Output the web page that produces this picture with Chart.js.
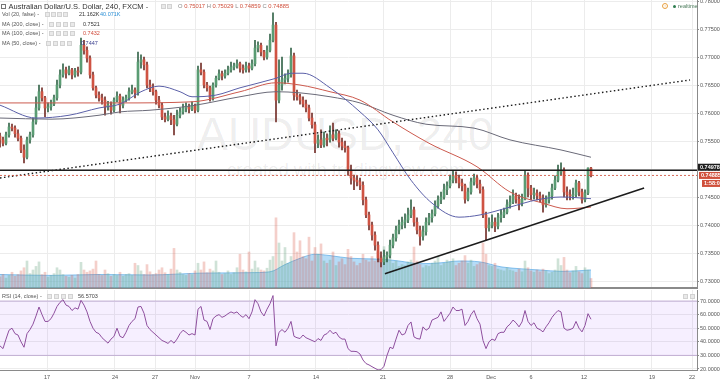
<!DOCTYPE html>
<html><head><meta charset="utf-8">
<script src="https://cdn.jsdelivr.net/npm/chart.js@4/dist/chart.umd.min.js"></script>
<style>
html,body{margin:0;padding:0;background:#fff;width:720px;height:386px;overflow:hidden;font-family:"Liberation Sans",Arial,sans-serif;}
#wrap{position:relative;width:720px;height:386px;}
canvas{position:absolute;left:0;z-index:1;}
#c1{top:0}
#c2{top:290px}
.wm{position:absolute;color:rgba(0,0,0,0.075);white-space:nowrap;z-index:0}
.t{position:absolute;white-space:nowrap;z-index:2;line-height:1;font-size:5.5px;color:#555}
.ic{position:absolute;z-index:2;width:5px;height:5px;background:#e9e9e9;border:0.5px solid #d2d2d2;box-sizing:border-box}
</style></head>
<body><div id="wrap">
<div class="wm" style="left:197px;top:111px;font-size:46px;line-height:46px">AUDUSD, 240</div>
<div class="wm" style="left:227px;top:161px;font-size:18.5px;line-height:18.5px">created with tradingview.com</div>
<canvas id="c1" width="720" height="289" style="width:720px;height:289px"></canvas>
<canvas id="c2" width="720" height="96" style="width:720px;height:96px"></canvas>

<i class="ic" style="left:1px;top:4px;width:5px;height:5px;border:0.8px solid #777;background:#fff"></i>
<span class="t" style="left:8.5px;top:3px;font-size:7.5px;color:#333">Australian Dollar/U.S. Dollar, 240, FXCM -</span>
<i class="ic" style="left:161px;top:4px"></i><i class="ic" style="left:167px;top:4px"></i>
<span class="t" id="ohlcText" style="left:178px;top:4px;font-size:5.8px"></span>

<span class="t" style="left:2px;top:12px">Vol (20, false) -</span>
<i class="ic" style="left:45px;top:12px"></i><i class="ic" style="left:51px;top:12px"></i><i class="ic" style="left:57px;top:12px"></i><i class="ic" style="left:63px;top:12px"></i>
<span class="t" id="volText" style="left:79px;top:12px;color:#333"></span>
<span class="t" id="volMaText" style="left:100px;top:12px;color:#2b8fd6"></span>

<span class="t" style="left:2px;top:22px">MA (200, close) -</span>
<i class="ic" style="left:49px;top:22px"></i><i class="ic" style="left:56px;top:22px"></i><i class="ic" style="left:63px;top:22px"></i><i class="ic" style="left:70px;top:22px"></i>
<span class="t" id="ma200Text" style="left:83px;top:22px;color:#333"></span>

<span class="t" style="left:2px;top:31px">MA (100, close) -</span>
<i class="ic" style="left:49px;top:31px"></i><i class="ic" style="left:56px;top:31px"></i><i class="ic" style="left:63px;top:31px"></i><i class="ic" style="left:70px;top:31px"></i>
<span class="t" id="ma100Text" style="left:83px;top:31px;color:#d04a3a"></span>

<span class="t" style="left:2px;top:41px">MA (50, close) -</span>
<i class="ic" style="left:46px;top:41px"></i><i class="ic" style="left:53px;top:41px"></i><i class="ic" style="left:60px;top:41px"></i><i class="ic" style="left:67px;top:41px"></i>
<span class="t" id="ma50Text" style="left:81px;top:41px;color:#3a3f8f"></span>

<span class="t" style="left:662px;top:3px;width:6px;height:6px;border:0.8px solid #e8a040;border-radius:50%;box-sizing:border-box;font-size:4px;color:#e8a040;text-align:center;line-height:5px">!</span>
<i class="ic" style="left:673px;top:4.5px;width:3px;height:3px;border:none;border-radius:50%;background:#2e7d50"></i>
<span class="t" style="left:678px;top:3.5px;color:#4a7a5a">realtime</span>

<span class="t" style="left:2px;top:294px">RSI (14, close) -</span>
<i class="ic" style="left:47px;top:294px"></i><i class="ic" style="left:54px;top:294px"></i><i class="ic" style="left:61px;top:294px"></i><i class="ic" style="left:68px;top:294px"></i>
<span class="t" id="rsiText" style="left:78px;top:294px;color:#444"></span>
<i class="ic" style="left:683px;top:294px"></i><i class="ic" style="left:690px;top:294px"></i>
</div>
<script>
// ---------- DATA ----------
const timeTickBars = [15.67,38.33,51.67,65,83,105.33,127.67,150,163.67,177,194.67,217.33,230.67];
const timeTickLabels = ['17','24','27','Nov','7','14','21','28','Dec','6','12','19','22'];
const priceTicks = [0.730,0.735,0.740,0.745,0.750,0.755,0.760,0.765,0.770,0.775,0.780];
const rsiTicks = [20,30,40,50,60,70];

// 4H candles [open, high, low, close]
const ohlc = [
[0.7559,0.7564,0.7539,0.7552],[0.7552,0.7557,0.7541,0.7546],[0.7546,0.7566,0.7543,0.7561],[0.7561,0.7582,0.7557,0.7575],[0.7575,0.7580,0.7568,0.7573],
[0.7573,0.7577,0.7557,0.7563],[0.7563,0.7570,0.7550,0.7555],[0.7555,0.7559,0.7529,0.7534],[0.7534,0.7543,0.7511,0.7521],[0.7521,0.7557,0.7518,0.7552],
[0.7552,0.7566,0.7546,0.7561],[0.7561,0.7591,0.7557,0.7584],[0.7584,0.7629,0.7580,0.7609],[0.7609,0.7650,0.7605,0.7638],[0.7638,0.7645,0.7621,0.7627],
[0.7627,0.7630,0.7593,0.7609],[0.7609,0.7618,0.7602,0.7611],[0.7611,0.7623,0.7605,0.7616],[0.7616,0.7632,0.7613,0.7627],[0.7627,0.7659,0.7623,0.7650],
[0.7650,0.7677,0.7645,0.7668],[0.7668,0.7688,0.7664,0.7677],[0.7677,0.7682,0.7662,0.7671],[0.7671,0.7684,0.7668,0.7677],[0.7677,0.7680,0.7661,0.7668],
[0.7668,0.7680,0.7664,0.7675],[0.7675,0.7682,0.7666,0.7673],[0.7673,0.7734,0.7670,0.7721],[0.7721,0.7730,0.7705,0.7712],[0.7712,0.7718,0.7691,0.7698],
[0.7698,0.7702,0.7662,0.7668],[0.7668,0.7673,0.7641,0.7645],[0.7645,0.7648,0.7627,0.7632],[0.7632,0.7638,0.7621,0.7627],[0.7627,0.7634,0.7616,0.7623],
[0.7623,0.7629,0.7596,0.7611],[0.7611,0.7621,0.7605,0.7614],[0.7614,0.7620,0.7598,0.7605],[0.7605,0.7627,0.7602,0.7623],[0.7623,0.7638,0.7620,0.7630],
[0.7630,0.7634,0.7600,0.7614],[0.7614,0.7629,0.7609,0.7623],[0.7623,0.7632,0.7620,0.7627],[0.7627,0.7645,0.7623,0.7638],[0.7638,0.7650,0.7634,0.7641],
[0.7641,0.7645,0.7627,0.7636],[0.7636,0.7709,0.7632,0.7691],[0.7691,0.7704,0.7680,0.7695],[0.7695,0.7700,0.7677,0.7686],[0.7686,0.7691,0.7645,0.7650],
[0.7650,0.7659,0.7638,0.7645],[0.7645,0.7652,0.7632,0.7638],[0.7638,0.7641,0.7616,0.7623],[0.7623,0.7630,0.7609,0.7614],[0.7614,0.7618,0.7588,0.7593],
[0.7593,0.7600,0.7584,0.7589],[0.7589,0.7604,0.7586,0.7595],[0.7595,0.7600,0.7579,0.7588],[0.7588,0.7596,0.7561,0.7580],[0.7580,0.7605,0.7577,0.7596],
[0.7596,0.7609,0.7591,0.7602],[0.7602,0.7616,0.7598,0.7609],[0.7609,0.7618,0.7602,0.7611],[0.7611,0.7616,0.7600,0.7607],[0.7607,0.7620,0.7604,0.7613],
[0.7613,0.7616,0.7600,0.7605],[0.7605,0.7684,0.7602,0.7677],[0.7677,0.7689,0.7668,0.7673],[0.7673,0.7677,0.7645,0.7650],[0.7650,0.7655,0.7639,0.7645],
[0.7645,0.7648,0.7621,0.7627],[0.7627,0.7654,0.7623,0.7650],[0.7650,0.7666,0.7646,0.7662],[0.7662,0.7677,0.7659,0.7670],[0.7670,0.7675,0.7659,0.7666],
[0.7666,0.7677,0.7662,0.7671],[0.7671,0.7684,0.7668,0.7677],[0.7677,0.7691,0.7673,0.7682],[0.7682,0.7689,0.7677,0.7684],[0.7684,0.7695,0.7680,0.7688],
[0.7688,0.7691,0.7673,0.7680],[0.7680,0.7686,0.7671,0.7677],[0.7677,0.7691,0.7673,0.7684],[0.7684,0.7689,0.7673,0.7680],[0.7680,0.7695,0.7677,0.7688],
[0.7688,0.7730,0.7684,0.7716],[0.7716,0.7727,0.7709,0.7721],[0.7721,0.7725,0.7702,0.7709],[0.7709,0.7712,0.7695,0.7700],[0.7700,0.7720,0.7696,0.7712],
[0.7712,0.7741,0.7709,0.7730],[0.7730,0.7779,0.7727,0.7757],[0.7757,0.7762,0.7584,0.7623],[0.7623,0.7695,0.7618,0.7650],[0.7650,0.7700,0.7641,0.7659],
[0.7659,0.7670,0.7652,0.7662],[0.7662,0.7677,0.7655,0.7668],[0.7668,0.7716,0.7664,0.7702],[0.7702,0.7707,0.7623,0.7632],[0.7632,0.7641,0.7623,0.7629],
[0.7629,0.7634,0.7616,0.7623],[0.7623,0.7629,0.7611,0.7616],[0.7616,0.7623,0.7602,0.7609],[0.7609,0.7614,0.7586,0.7591],[0.7591,0.7600,0.7573,0.7579],
[0.7579,0.7584,0.7529,0.7546],[0.7546,0.7561,0.7538,0.7552],[0.7552,0.7570,0.7538,0.7543],[0.7543,0.7566,0.7539,0.7555],[0.7555,0.7563,0.7541,0.7552],
[0.7552,0.7577,0.7548,0.7561],[0.7561,0.7582,0.7550,0.7555],[0.7555,0.7570,0.7552,0.7563],[0.7563,0.7568,0.7539,0.7548],[0.7548,0.7555,0.7534,0.7541],
[0.7541,0.7550,0.7530,0.7538],[0.7538,0.7541,0.7489,0.7498],[0.7498,0.7507,0.7473,0.7484],[0.7484,0.7489,0.7463,0.7480],[0.7480,0.7488,0.7470,0.7477],
[0.7477,0.7484,0.7463,0.7471],[0.7471,0.7477,0.7436,0.7445],[0.7445,0.7450,0.7413,0.7418],[0.7418,0.7423,0.7391,0.7400],[0.7400,0.7405,0.7373,0.7382],
[0.7382,0.7388,0.7355,0.7364],[0.7364,0.7370,0.7334,0.7341],[0.7341,0.7352,0.7325,0.7334],[0.7334,0.7355,0.7329,0.7343],[0.7343,0.7352,0.7334,0.7346],
[0.7346,0.7373,0.7341,0.7364],[0.7364,0.7384,0.7359,0.7377],[0.7377,0.7398,0.7371,0.7391],[0.7391,0.7409,0.7384,0.7400],[0.7400,0.7414,0.7393,0.7405],
[0.7405,0.7420,0.7395,0.7409],[0.7409,0.7430,0.7404,0.7418],[0.7418,0.7445,0.7413,0.7427],[0.7427,0.7432,0.7398,0.7405],[0.7405,0.7413,0.7384,0.7391],
[0.7391,0.7398,0.7364,0.7380],[0.7380,0.7398,0.7373,0.7388],[0.7388,0.7413,0.7382,0.7405],[0.7405,0.7421,0.7400,0.7413],[0.7413,0.7427,0.7405,0.7420],
[0.7420,0.7443,0.7416,0.7434],[0.7434,0.7452,0.7430,0.7445],[0.7445,0.7459,0.7438,0.7450],[0.7450,0.7473,0.7446,0.7463],[0.7463,0.7477,0.7454,0.7470],
[0.7470,0.7489,0.7466,0.7480],[0.7480,0.7496,0.7475,0.7488],[0.7488,0.7495,0.7475,0.7484],[0.7484,0.7489,0.7466,0.7475],[0.7475,0.7482,0.7461,0.7470],
[0.7470,0.7473,0.7439,0.7446],[0.7446,0.7466,0.7443,0.7459],[0.7459,0.7484,0.7455,0.7477],[0.7477,0.7491,0.7471,0.7484],[0.7484,0.7489,0.7466,0.7473],
[0.7473,0.7480,0.7457,0.7463],[0.7463,0.7468,0.7413,0.7418],[0.7418,0.7423,0.7373,0.7395],[0.7395,0.7413,0.7389,0.7400],[0.7400,0.7418,0.7395,0.7405],
[0.7405,0.7413,0.7388,0.7398],[0.7398,0.7421,0.7393,0.7413],[0.7413,0.7427,0.7405,0.7418],[0.7418,0.7430,0.7413,0.7423],[0.7423,0.7445,0.7420,0.7436],
[0.7436,0.7452,0.7430,0.7441],[0.7441,0.7463,0.7438,0.7452],[0.7452,0.7457,0.7439,0.7446],[0.7446,0.7454,0.7427,0.7438],[0.7438,0.7455,0.7434,0.7446],
[0.7446,0.7496,0.7445,0.7489],[0.7489,0.7493,0.7450,0.7466],[0.7466,0.7471,0.7445,0.7454],[0.7454,0.7466,0.7446,0.7457],[0.7457,0.7463,0.7445,0.7452],
[0.7452,0.7459,0.7441,0.7446],[0.7446,0.7454,0.7423,0.7436],[0.7436,0.7452,0.7432,0.7445],[0.7445,0.7459,0.7439,0.7452],[0.7452,0.7473,0.7446,0.7466],
[0.7466,0.7488,0.7463,0.7480],[0.7480,0.7507,0.7477,0.7495],[0.7495,0.7511,0.7489,0.7498],[0.7498,0.7502,0.7450,0.7459],[0.7459,0.7468,0.7445,0.7454],
[0.7454,0.7463,0.7445,0.7452],[0.7452,0.7466,0.7446,0.7454],[0.7454,0.7480,0.7450,0.7475],[0.7475,0.7478,0.7452,0.7459],[0.7459,0.7464,0.7439,0.7445],
[0.7445,0.7463,0.7441,0.7457],[0.7457,0.7502,0.7454,0.75017],[0.75017,0.75029,0.74859,0.74885]
];

// volume (thousands)
const volumes = [
25,30,22,28,35,26,30,38,45,60, 32,40,48,58,30,35,24,28,32,45,
40,30,26,24,28,22,30,57,40,35, 38,42,60,30,28,40,32,26,30,28,
35,26,30,32,28,55,50,38,30,52, 36,30,32,40,45,34,30,42,88,40,
35,30,28,32,30,38,55,40,58,34, 42,38,60,35,30,32,38,30,34,45,
75,40,36,80,42,60,45,40,38,44, 62,70,156,100,60,90,55,70,123,80,
105,70,65,113,60,90,75,98,60,55, 62,80,50,58,65,52,86,70,58,50,
55,75,62,58,70,60,80,72,92,65, 70,55,60,48,52,50,58,62,91,60,
52,45,50,48,55,60,70,50,55,62, 58,65,50,55,60,72,55,62,48,52,
56,100,75,50,48,55,42,40,38,45, 40,38,35,42,36,60,45,38,35,40,
36,42,38,32,35,40,65,50,68,40, 34,38,48,36,32,45,40,21.162
];
// Vol(20) moving average [bar, value]
const volumeMA = [[0,30],[17,28],[33,30],[50,29],[67,33],[83,34],[90,36],[95,52],[100,66],[105,75],[110,72],[117,66],[127,64],[133,60],[140,54],[147,56],[153,60],[160,58],[167,47],[173,43],[180,40],[187,37],[192,38],[197,40.071]];

// moving averages [bar, value]
const ma200 = [[0,0.7591],[17,0.7589],[33,0.7596],[40,0.7602],[50,0.7605],[64,0.7613],[80,0.7629],[92,0.7638],[100,0.7636],[110,0.7629],[120,0.7618],[131,0.7596],[142,0.7580],[158,0.7573],[170,0.7552],[187,0.7534],[197,0.7521]];
const ma100 = [[0,0.7618],[20,0.7618],[40,0.7618],[64,0.7620],[80,0.7638],[92,0.7654],[100,0.7650],[110,0.7638],[120,0.7623],[131,0.7584],[143,0.7546],[159,0.7504],[170,0.7459],[181,0.7439],[189,0.7429],[197,0.7432]];
const ma50 = [[0,0.7614],[12,0.7591],[23,0.7596],[33,0.7609],[40,0.7616],[47,0.7638],[53,0.7648],[60,0.7638],[64,0.7629],[72,0.7632],[80,0.7645],[92,0.7662],[97,0.7671],[101,0.7671],[110,0.7645],[120,0.7602],[126,0.7570],[131,0.7529],[137,0.7480],[144,0.7439],[153,0.7414],[160,0.7418],[170,0.7432],[179,0.7445],[187,0.7450],[197,0.7447]];

// RSI(14)
const rsiValues = [
37,35,42,48.5,50,46,45,40,36,46, 49,53,59,65.6,60,55,55,57,61,66,
69,71,67,66,63,65,64,70.5,67,62, 55,50,47,46,43,41,39,42,44,50,
44,43,47,52,55,57,65.6,66,61,52, 49,47,45,43,41,40,38.8,41,39,42,
46,48.5,47,45,46,45,64,66,56,55, 49,57,59,60,58,59,60.7,62,61,62,
59.5,58,60,57,62,71,68,62,59,64, 68,74,37,47,49,47,50,55,44,43,
42.4,45,43,42,41,40,42.4,41,45,46, 48.5,46,47,43.6,42,42,35,33,33,32.7,
31,26.6,24,23,21.7,20.5,19.3,19.5,22,30, 36,35,42,48.5,45,46,52,54.6,43.6,42.4,
42,51,48.5,50,56,57,58,62,55,58, 61,65.6,63,63,64,52,55,60,63,57,
53,41,35,40,42,41,46,47,47,51, 53,56,54,51,54.6,63,55,52,54,50,
49,47.3,51,54,58,60.7,63,62,50,48.5, 49,50,55,50,47.3,52,60.7,56.5703
];
const rsiUpper = 70, rsiLower = 30;

// drawings
const resistanceLevel = 0.74978;
const dottedTrend = [[0,0.7484],[230,0.7659]];
const supportTrend = [[128.3,0.7313],[214.7,0.7466]];
const countdown = '1:58:05';

// ---------- CHARTS ----------
Chart.defaults.font.family = '"Liberation Sans", Arial, sans-serif';
const xMax = 232.33;
const priceMin = 0.72875, priceMax = 0.78018;
const rsiMin = 19.26, rsiMax = 78.1;
const bars = ohlc.map((d,i)=>({i,o:d[0],h:d[1],l:d[2],c:d[3],up:d[3]>=d[0]}));
const last = bars[bars.length-1];
const lastClose = last.c;
const pts = arr => arr.map(p=>({x:p[0],y:p[1]}));
const levelLine = v => [{x:0,y:v},{x:xMax,y:v}];
const UP='#5a9c73', DOWN='#cf5343', UPW='#35654a', DOWNW='#74302a';

const priceTags = {
  id:'priceTags',
  afterDraw(chart){
    const ys = chart.scales.y, ctx = chart.ctx, L = chart.chartArea.right;
    const tag = (val, text, bg, dy, x0) => {
      const py = ys.getPixelForValue(val) + dy;
      ctx.save();
      ctx.fillStyle = bg; ctx.fillRect(L + x0, py - 3.5, 720 - L - x0, 7);
      ctx.fillStyle = '#fff'; ctx.font = 'bold 5.5px "Liberation Sans", Arial';
      ctx.textBaseline = 'middle'; ctx.textAlign = 'left';
      ctx.fillText(text, L + x0 + 2, py + 0.3);
      ctx.restore();
    };
    tag(resistanceLevel, resistanceLevel.toFixed(5), '#1e1e1e', -3, 1);
    tag(lastClose, lastClose.toFixed(5), '#d0503c', 0, 2);
    tag(lastClose, countdown, '#d0503c', 8, 5);
  }
};

new Chart(document.getElementById('c1'), {
  type:'bar',
  data:{datasets:[
    {type:'line', data:levelLine(resistanceLevel), borderColor:'#1c1c1c', borderWidth:1.4, pointRadius:0, order:0},
    {type:'line', data:levelLine(lastClose), borderColor:'rgba(208,80,60,0.85)', borderWidth:1, borderDash:[2,2], pointRadius:0, order:0},
    {type:'line', data:pts(dottedTrend), borderColor:'#1c1c1c', borderWidth:1.4, borderDash:[1.5,2.5], pointRadius:0, order:0},
    {type:'line', data:pts(supportTrend), borderColor:'#1c1c1c', borderWidth:1.5, pointRadius:0, order:0},
    {type:'line', data:pts(ma50), borderColor:'#5b60a8', borderWidth:1, pointRadius:0, cubicInterpolationMode:'monotone', order:1},
    {type:'line', data:pts(ma100), borderColor:'#cc5a4e', borderWidth:1, pointRadius:0, cubicInterpolationMode:'monotone', order:1},
    {type:'line', data:pts(ma200), borderColor:'#6a6a78', borderWidth:1, pointRadius:0, cubicInterpolationMode:'monotone', order:1},
    {type:'bar', data:bars.map(b=>({x:b.i,y:[b.o,b.c]})), backgroundColor:bars.map(b=>b.up?UP:DOWN), barThickness:2, grouped:false, minBarLength:1, borderWidth:0, order:2},
    {type:'bar', data:bars.map(b=>({x:b.i,y:[b.l,b.h]})), backgroundColor:bars.map(b=>b.up?UPW:DOWNW), barThickness:1, grouped:false, borderWidth:0, order:3},
    {type:'bar', yAxisID:'yv', data:volumes.map((v,i)=>({x:i,y:v})), backgroundColor:bars.map(b=>b.up?'rgba(107,165,131,0.32)':'rgba(215,84,66,0.28)'), barThickness:2, grouped:false, borderWidth:0, order:4},
    {type:'line', yAxisID:'yv', data:pts(volumeMA), fill:'origin', backgroundColor:'rgba(120,192,240,0.55)', borderColor:'rgba(90,170,230,0.7)', borderWidth:1, pointRadius:0, cubicInterpolationMode:'monotone', order:5}
  ]},
  options:{
    responsive:false, animation:false, devicePixelRatio:1, events:[],
    layout:{padding:0},
    plugins:{legend:{display:false}, tooltip:{enabled:false}},
    scales:{
      x:{type:'linear', min:0, max:xMax, offset:false,
         grid:{color:'#ececec', offset:false, drawTicks:false},
         border:{display:true, color:'#8a8a8a', width:2},
         ticks:{display:false},
         afterBuildTicks:s=>{s.ticks=timeTickBars.map(v=>({value:v}));},
         afterFit:s=>{s.height=1; s.paddingLeft=0; s.paddingRight=0;}},
      y:{position:'right', min:priceMin, max:priceMax,
         grid:{color:'#ececec', tickColor:'#8a8a8a', tickLength:2, drawTicks:true},
         border:{display:true, color:'#8a8a8a'},
         ticks:{font:{size:5.5}, color:'#555', padding:1, callback:v=>v.toFixed(5)},
         afterBuildTicks:s=>{s.ticks=priceTicks.map(v=>({value:v}));},
         afterFit:s=>{s.width=23; s.paddingTop=0; s.paddingBottom=0;}},
      yv:{display:false, min:0, max:640}
    }
  },
  plugins:[priceTags]
});

new Chart(document.getElementById('c2'), {
  type:'line',
  data:{datasets:[
    {data:rsiValues.map((v,i)=>({x:i,y:v})), borderColor:'#8e4f9e', borderWidth:1, pointRadius:0, order:0},
    {data:levelLine(rsiUpper), borderColor:'rgba(160,130,190,0.55)', borderWidth:1, pointRadius:0, order:1},
    {data:levelLine(rsiLower), borderColor:'rgba(160,130,190,0.55)', borderWidth:1, pointRadius:0, fill:'-1', backgroundColor:'rgba(160,80,255,0.09)', order:2}
  ]},
  options:{
    responsive:false, animation:false, devicePixelRatio:1, events:[],
    layout:{padding:0},
    plugins:{legend:{display:false}, tooltip:{enabled:false}},
    scales:{
      x:{type:'linear', min:0, max:xMax, offset:false,
         grid:{color:'#ececec', drawTicks:false},
         border:{display:true, color:'#8a8a8a', width:1},
         ticks:{font:{size:5.5}, color:'#555', padding:4, maxRotation:0, autoSkip:false, callback:(v,i)=>timeTickLabels[i]},
         afterBuildTicks:s=>{s.ticks=timeTickBars.map(v=>({value:v}));},
         afterFit:s=>{s.height=16; s.paddingLeft=0; s.paddingRight=0;}},
      y:{position:'right', min:rsiMin, max:rsiMax,
         grid:{color:'#ececec', tickColor:'#8a8a8a', tickLength:2, drawTicks:true},
         border:{display:true, color:'#8a8a8a'},
         ticks:{font:{size:5.5}, color:'#555', padding:1, callback:v=>v.toFixed(4)},
         afterBuildTicks:s=>{s.ticks=rsiTicks.map(v=>({value:v}));},
         afterFit:s=>{s.width=23; s.paddingTop=0; s.paddingBottom=0;}}
    }
  }
});

// legend values from data
const g = id => document.getElementById(id);
const val = v => '<span style="color:#d0503c">' + v.toFixed(5) + '</span>';
g('ohlcText').innerHTML = '<span style="color:#888">O</span> ' + val(last.o) + ' <span style="color:#888">H</span> ' + val(last.h) +
  ' <span style="color:#888">L</span> ' + val(last.l) + ' <span style="color:#888">C</span> ' + val(last.c);
g('volText').textContent = volumes[volumes.length-1].toFixed(3) + 'K';
g('volMaText').textContent = volumeMA[volumeMA.length-1][1].toFixed(3) + 'K';
g('ma200Text').textContent = ma200[ma200.length-1][1].toFixed(4);
g('ma100Text').textContent = ma100[ma100.length-1][1].toFixed(4);
g('ma50Text').textContent = ma50[ma50.length-1][1].toFixed(4);
g('rsiText').textContent = rsiValues[rsiValues.length-1].toFixed(4);
</script>
</body></html>
